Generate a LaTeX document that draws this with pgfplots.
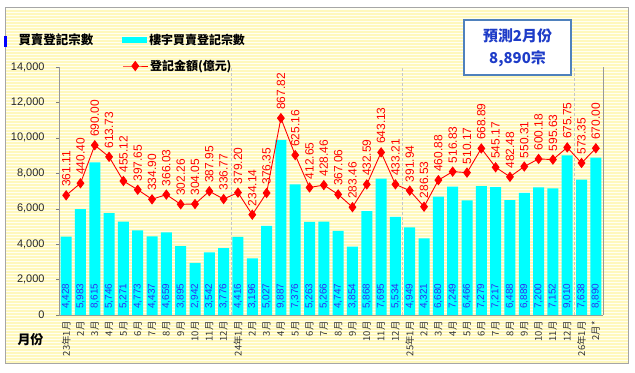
\documentclass[border=0pt]{standalone}
\usepackage{pgfplots}
\pgfplotsset{compat=1.18}
\usepackage{pgfplotstable}
\usepackage{fontspec}
\setmainfont{Liberation Sans}
\newfontfamily\cjk{Noto Sans CJK TC}
\definecolor{barcyan}{HTML}{00FFFF}
\definecolor{lblue}{HTML}{3030F0}
\definecolor{stripe}{HTML}{FFF8BC}
\definecolor{bgyel}{HTML}{FFFFF2}
\definecolor{boxblue}{HTML}{4F81BD}
\definecolor{txtblue}{HTML}{1E3CC8}

\pgfplotstableread{
x cnt amt zero
0 4428 361.11 0
1 5983 440.40 0
2 8615 690.00 0
3 5746 613.73 0
4 5271 455.12 0
5 4773 397.65 0
6 4437 334.90 0
7 4659 366.03 0
8 3895 302.26 0
9 2942 304.05 0
10 3542 387.95 0
11 3776 336.77 0
12 4416 379.20 0
13 3196 234.14 0
14 5027 376.35 0
15 9887 867.82 0
16 7376 625.16 0
17 5263 412.65 0
18 5266 428.46 0
19 4747 367.06 0
20 3854 283.46 0
21 5868 432.59 0
22 7695 643.13 0
23 5534 433.21 0
24 4949 391.94 0
25 4321 286.53 0
26 6680 460.88 0
27 7249 516.83 0
28 6466 510.17 0
29 7279 668.89 0
30 7217 545.17 0
31 6488 482.48 0
32 6889 550.31 0
33 7200 600.18 0
34 7152 595.63 0
35 9010 675.75 0
36 7638 573.35 0
37 8890 670.00 0
}\data

\begin{document}
\begin{tikzpicture}
\useasboundingbox (0,0) rectangle (635bp,373bp);
\fill[white] (0,0) rectangle (635bp,373bp);
\fill[bgyel] (5bp,10bp) rectangle (628bp,366bp);
\foreach \k in {0,...,117} \draw[stripe, line width=1.3bp] (5bp,{11bp+\k*3bp}) -- (628bp,{11bp+\k*3bp});
\draw[gray!70] (5bp,10bp) rectangle (628bp,366bp);
\fill[blue] (4bp,326bp) rectangle (6.5bp,337bp);

\begin{axis}[
  at={(59bp,58bp)}, anchor=south west, scale only axis,
  width=544bp, height=248bp,
  xmin=-0.5, xmax=37.5, ymin=0, ymax=14000,
  axis x line*=bottom, axis y line*=left,
  axis line style={-, gray!80},
  clip=false,
  scaled y ticks=false,
  /pgf/number format/1000 sep={,},
  /pgf/number format/assume math mode=true,
  ytick={0,2000,...,14000},
  yticklabel style={font=\fontsize{11}{12}\selectfont, xshift=-8bp, text=black!85,
    /pgf/number format/fixed, /pgf/number format/precision=0},
  tick align=outside, major tick length=3bp,
  ytick style={gray},
  xtick={0,...,37},
  xticklabels={23年1月,2月,3月,4月,5月,6月,7月,8月,9月,10月,11月,12月,24年1月,2月,3月,4月,5月,6月,7月,8月,9月,10月,11月,12月,25年1月,2月,3月,4月,5月,6月,7月,8月,9月,10月,11月,12月,26年1月,2月*},
  xtick style={draw=none},
  xticklabel style={rotate=90, anchor=east, font=\cjk\fontsize{9.5}{10}\selectfont, text=black!80},
  extra x ticks={11.5,23.5,35.5}, extra x tick labels={},
  extra x tick style={grid=major, major grid style={densely dashed, gray!45}, tick style={draw=none}},
  legend style={at={(axis description cs:0.116,1.109)}, anchor=west, draw=none, fill=none,
    font=\cjk\bfseries\fontsize{12}{13}\selectfont, inner sep=0pt},
]
\addplot[ybar, bar width=11bp, fill=barcyan, draw=none,
  legend image code/.code={\fill[barcyan] (0bp,-3bp) rectangle (25bp,3bp);}]
  table[x=x, y=cnt]{\data};
\addlegendentry{樓宇買賣登記宗數}
\addplot[draw=none, mark=none, forget plot, nodes near coords, point meta=explicit,
  every node near coord/.append style={rotate=90, anchor=west, inner xsep=6bp,
    font=\fontsize{10}{11}\selectfont, text=lblue}]
  table[x=x, y=zero, meta=cnt]{\data};
\end{axis}

\begin{axis}[
  at={(59bp,58bp)}, anchor=south west, scale only axis,
  width=544bp, height=248bp,
  xmin=-0.5, xmax=37.5, ymin=-424.4, ymax=1203.5,
  axis x line=none, axis y line*=right,
  axis line style={-, gray!80},
  ytick=\empty,
  clip=false,
  /pgf/number format/assume math mode=true,
  legend style={at={(axis description cs:0.116,1.004)}, anchor=west, draw=none, fill=none,
    font=\cjk\bfseries\fontsize{12}{13}\selectfont, inner sep=0pt},
]
\addplot[red, line width=0.9bp, mark=diamond*, mark size=4.5bp, mark options={fill=red, draw=red},
  nodes near coords={\pgfmathprintnumber[fixed, fixed zerofill, precision=2, assume math mode=true]{\pgfplotspointmeta}},
  point meta=y,
  every node near coord/.append style={rotate=90, anchor=west, inner xsep=8bp,
    font=\fontsize{12}{13}\selectfont, text=red},
  legend image code/.code={\draw[mark repeat=2, mark phase=2] plot coordinates {(0bp,0bp) (12.5bp,0bp) (25bp,0bp)};}]
  table[x=x, y=amt]{\data};
\addlegendentry{登記金額(億元)}
\end{axis}

\node[anchor=west, font=\cjk\bfseries\fontsize{12.5}{13}\selectfont] at (15bp,333bp) {買賣登記宗數};
\node[anchor=west, font=\cjk\bfseries\fontsize{13}{14}\selectfont] at (14bp,33bp) {月份};
\node[draw=boxblue, line width=2.2bp, fill=white, minimum width=107bp, minimum height=55bp,
  align=center, text=txtblue, font=\cjk\bfseries\fontsize{15}{22}\selectfont]
  at (517.5bp,325.5bp) {預測2月份\\8,890宗};
\end{tikzpicture}
\end{document}
